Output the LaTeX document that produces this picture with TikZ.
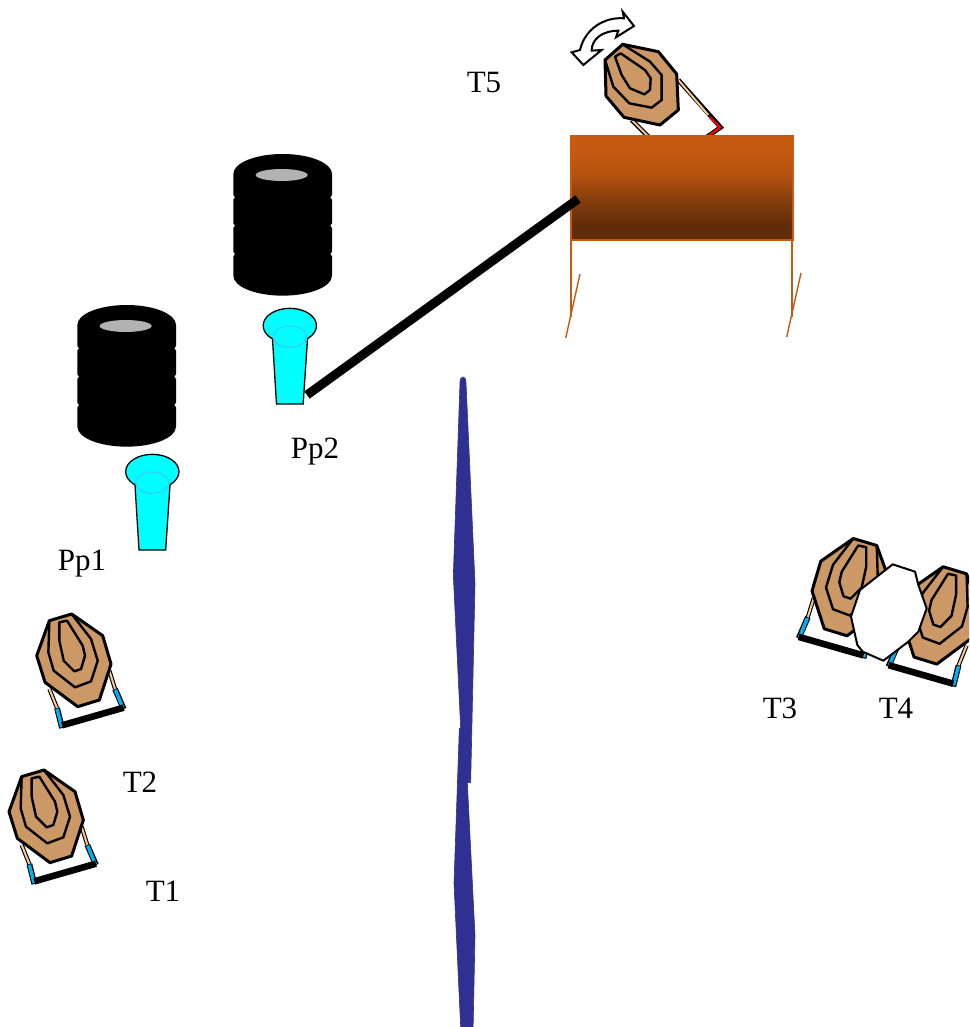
\documentclass[tikz,border=0pt]{standalone}
\usepackage{fontspec}
\setmainfont{Liberation Serif}
\definecolor{tanfill}{HTML}{CC9966}
\definecolor{posttan}{HTML}{F2C998}
\definecolor{postcyan}{HTML}{00B0F0}
\definecolor{pincyan}{HTML}{00FFFF}
\definecolor{pinring}{HTML}{33CCFF}
\definecolor{woodtop}{HTML}{C55A11}
\definecolor{bluewedge}{HTML}{2E3192}
\pgfdeclareverticalshading{woodshade}{100bp}{
  color(0bp)=(woodtop!48!black);
  color(31bp)=(woodtop!48!black);
  color(44bp)=(woodtop!68!black);
  color(57bp)=(woodtop!92!black);
  color(68bp)=(woodtop);
  color(100bp)=(woodtop)}
\tikzset{
  outline/.style={draw=black,line width=3pt,line join=round},
  ring/.style={draw=black,line width=2.4pt,line join=round},
  lbl/.style={font=\fontsize{31}{31}\selectfont,inner sep=0pt},
  pinbody/.style={fill=pincyan,draw=none},
  pinedge/.style={draw=black,line width=1.3pt}
}
\newcommand{\targetshape}{%
  \draw[black,line width=4.2pt] (65,735)--(88,792);
  \draw[posttan,line width=2pt] (65,735)--(88,792);
  \draw[black,line width=4.2pt] (245,680)--(262,735);
  \draw[posttan,line width=2pt] (245,680)--(262,735);
  \draw[black,line width=5.8pt] (88,792)--(103,852);
  \draw[postcyan,line width=3.4pt] (88,794)--(102,849);
  \draw[black,line width=5.8pt] (262,735)--(288,795);
  \draw[postcyan,line width=3.4pt] (263,737)--(286,793);
  \draw[black,line width=6.6pt] (103,844)--(288,791);
  \path[outline,fill=tanfill] (65,530)--(132,510)--(225,575)--(250,660)--(215,768)--(150,788)--(52,715)--(27,635)--cycle;
  \draw[ring] (65,530)--(62,625)--(78,680)--(142,730)--(190,712)--(210,650)--(190,585)--(132,510);
  \draw[ring] (95,535)--(118,530)--(165,605)--(172,635)--(160,675)--(140,682)--(108,650)--(95,590)--cycle;
}
\newcommand{\barrelshape}{%
  \fill[black] (52,105) arc[start angle=180,end angle=360,x radius=148,y radius=60]
    --(348,168)--(343,175)--(348,182)--(348,253)--(343,260)--(348,267)--(348,338)--(343,345)--(348,352)--(348,410)
    arc[start angle=0,end angle=180,x radius=148,y radius=60]
    --(52,352)--(57,345)--(52,338)--(52,267)--(57,260)--(52,253)--(52,182)--(57,175)--(52,168)--cycle;
  \fill[black!30] (197,108) ellipse[x radius=78,y radius=18];
}
\newcommand{\pinshape}{%
  \path[draw=black,line width=1.3pt,fill=pincyan] (277,545) ellipse[x radius=80,y radius=52];
  \fill[pincyan] (226,570)--(237,780)--(317,780)--(330,570)--cycle;
  \draw[pinedge] (225,585)--(237,780)--(317,780)--(330,585);
  \draw[pinring,line width=1.2pt] (277,578) ellipse[x radius=50,y radius=32];
}
\begin{document}
\begin{tikzpicture}[x=1pt,y=-1pt]
\useasboundingbox (0,0) rectangle (969,1027);
\clip (0,0) rectangle (969,1027);
% blue wedge
\begin{scope}[shift={(430,370)},xscale=1/3,yscale=1/2.387]
  \fill[bluewedge,draw=bluewedge,line width=0.6pt,line join=round] (90,30) .. controls (90,12) and (108,12) .. (108,30) -- (135,510)--(122,985)--(112,985)--(135,1350)--(128,1620)--(95,1620)--(72,1225)--(88,855)--(92,855)--(70,490)--cycle;
\end{scope}
% barrels
\begin{scope}[shift={(60,290)},scale=1/3]\barrelshape\end{scope}
\begin{scope}[shift={(216,139)},scale=1/3]\barrelshape\end{scope}
% pins
\begin{scope}[shift={(60,290)},scale=1/3]\pinshape\end{scope}
\begin{scope}[shift={(197.5,144)},scale=1/3]\pinshape\end{scope}
% T5 target frame and target
\begin{scope}[shift={(550,0)},scale=1/3]
  \draw[black,line width=4.6pt] (245,360)--(300,415);
  \draw[posttan,line width=2pt] (245,360)--(300,415);
  \draw[black,line width=4.6pt,line join=miter] (385,240)--(512,382)--(465,415);
  \draw[posttan,line width=2pt] (385,240)--(475,345);
  \draw[red,line width=2.2pt,line join=miter] (478,350)--(510,382)--(470,412);
  \path[outline,fill=tanfill] (218,133)--(325,155)--(380,222)--(385,330)--(330,375)--(222,352)--(168,288)--(165,180)--cycle;
  \draw[ring] (218,133)--(300,185)--(335,225)--(335,300)--(305,323)--(238,310)--(190,260)--(165,180);
  \draw[ring] (195,170)--(212,160)--(285,210)--(302,235)--(300,270)--(283,283)--(240,265)--(215,225)--cycle;
  \path[draw=black,line width=2pt,fill=white,line join=miter]
    (90,150) .. controls (105,85) and (165,50) .. (222,55)
    -- (218,35) -- (252,78) -- (198,112) -- (205,92)
    .. controls (160,92) and (125,115) .. (125,152)
    -- (155,150) -- (100,195) -- (65,157) -- cycle;
\end{scope}
% table
\draw[woodtop,line width=1.6pt] (571,238)--(571,317);
\draw[woodtop,line width=1.6pt] (792,238)--(792,317);
\draw[woodtop,line width=1.4pt] (580,274)--(565.7,338);
\draw[woodtop,line width=1.4pt] (801,273)--(786.7,337);
\path[shading=woodshade,draw=woodtop,line width=2pt] (570.5,136.5) rectangle (792.5,239.5);
\draw[black,line width=9pt] (307,395)--(578,199);
% T1, T2
\begin{scope}[shift={(0,600)},scale=1/3]\targetshape\end{scope}
\begin{scope}[shift={(27.7,444)},scale=1/3]\targetshape\end{scope}
% T4, T3
\begin{scope}[shift={(989.3,388.3)},xscale=-1.05/3,yscale=1.05/3]\targetshape\end{scope}
\begin{scope}[shift={(899.5,360)},xscale=-1.05/3,yscale=1.05/3]\targetshape\end{scope}
% white target
\begin{scope}[shift={(780,520)},scale=1/3]
  \path[draw=black,line width=2pt,fill=white,line join=round] (338,133)--(405,155)--(415,195)--(440,265)--(415,335)--(385,365)--(310,422)--(248,395)--(232,375)--(213,290)--(240,210)--cycle;
\end{scope}
% labels
\node[lbl] (t5) at (484,83) {T5};
\node[lbl] (pp2) at (315,452) {Pp2};
\node[lbl] (pp1) at (82,564) {Pp1};
\node[lbl] (t2) at (140,782) {T2};
\node[lbl] (t1) at (163,891) {T1};
\node[lbl] (t3) at (780,708) {T3};
\node[lbl] (t4) at (896,708) {T4};
\end{tikzpicture}
\end{document}
